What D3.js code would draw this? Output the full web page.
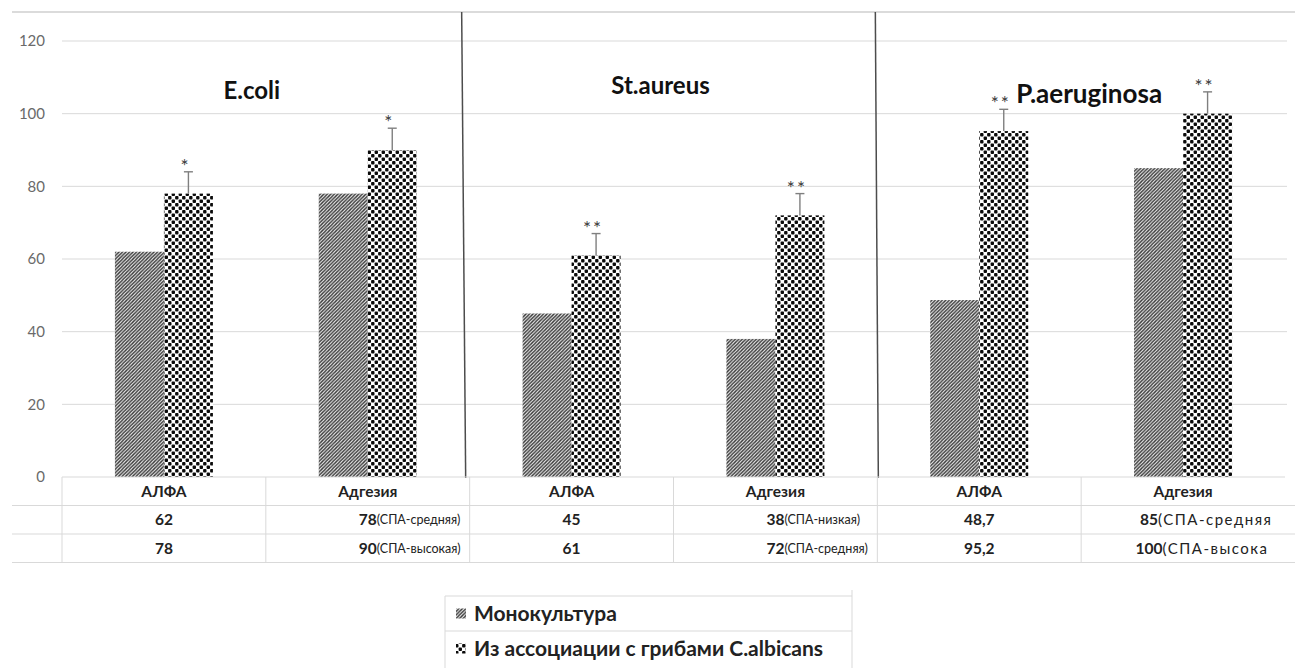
<!DOCTYPE html>
<html><head><meta charset="utf-8">
<script src="https://cdn.jsdelivr.net/npm/d3@7"></script>
<style>body{margin:0;background:#fff}svg{display:block;font-family:Lato,"Open Sans",sans-serif}</style>
</head><body><svg id="c" width="1295" height="668"></svg>
<script>
// ---- data ----
const categories = ["АЛФА","Адгезия","АЛФА","Адгезия","АЛФА","Адгезия"];
const groups = ["E.coli","St.aureus","P.aeruginosa"];
const seriesNames = ["Монокультура","Из ассоциации с грибами C.albicans"];
const mono = [62,78,45,38,48.7,85];
const assoc = [78,90,61,72,95.2,100];
const assocErr = [6,6,6,6,6,6];
const signif = ["*","*","**","**","**","**"];
const monoLabels = ["62","78","45","38","48,7","85"];
const assocLabels = ["78","90","61","72","95,2","100"];
const monoNotes = ["","(СПА-средняя)","","(СПА-низкая)","","(СПА-средняя"];
const assocNotes = ["","(СПА-высокая)","","(СПА-средняя)","","(СПА-высока"];
const yTicks = [0,20,40,60,80,100,120];

(function(){
// ---- layout ----
const svg = d3.select("#c");
const W = 1295, H = 668;
const pL = 62, pR = 1285, pT = 41, pB = 477;
const x = d3.scaleBand().domain(d3.range(categories.length)).range([pL, pR]);
const xs = d3.scaleBand().domain([0,1]).range([0, x.bandwidth()]).paddingOuter(1.08);
const y = d3.scaleLinear().domain([0,120]).range([pB, pT]);
const grid = "#d9d9d9";

// patterns
const defs = svg.append("defs");
const ph = defs.append("pattern").attr("id","hatch").attr("patternUnits","userSpaceOnUse")
  .attr("width",3.5).attr("height",3.5);
ph.append("rect").attr("width",3.5).attr("height",3.5).attr("fill","#fff");
ph.append("path").attr("d","M-1,1 l2,-2 M0,3.5 l3.5,-3.5 M2.5,4.5 l2,-2").attr("stroke","#383838").attr("stroke-width",1.4);
const pc = defs.append("pattern").attr("id","checker").attr("patternUnits","userSpaceOnUse")
  .attr("width",7).attr("height",7);
pc.append("rect").attr("width",7).attr("height",7).attr("fill","#fff");
pc.append("rect").attr("x",0.1).attr("y",0.1).attr("width",3.4).attr("height",3.4).attr("rx",0.9).attr("fill","#0a0a0a");
pc.append("rect").attr("x",3.6).attr("y",3.6).attr("width",3.4).attr("height",3.4).attr("rx",0.9).attr("fill","#0a0a0a");
const fills = ["url(#hatch)","url(#checker)"];

// top border line
svg.append("line").attr("x1",12).attr("x2",W).attr("y1",12).attr("y2",12).attr("stroke","#cfcfcf").attr("stroke-width",1.5);

// gridlines & y ticks
svg.append("g").selectAll("line").data(yTicks.filter(d=>d>0)).join("line")
  .attr("x1",pL).attr("x2",pR+2).attr("y1",d=>y(d)).attr("y2",d=>y(d))
  .attr("stroke",grid).attr("stroke-width",1);
svg.append("g").selectAll("text").data(yTicks).join("text")
  .attr("x",45).attr("y",d=>y(d)).attr("dy","0.35em").attr("text-anchor","end")
  .attr("font-size",15).attr("fill","#6a6a6a").text(d=>d);

// bars
const gBars = svg.append("g");
const seriesVals = [mono, assoc];
seriesVals.forEach((vals, s) => {
  gBars.selectAll(null).data(vals).join("rect")
    .attr("x",(d,i)=>x(i)+xs(s)).attr("width",xs.bandwidth())
    .attr("y",d=>y(d)).attr("height",d=>y(0)-y(d))
    .attr("fill",fills[s]);
});

// error bars (association)
const ex = i => x(i)+xs(1)+xs.bandwidth()/2;
const gErr = svg.append("g").attr("stroke","#7f7f7f").attr("stroke-width",1.4);
assoc.forEach((v,i)=>{
  gErr.append("line").attr("x1",ex(i)).attr("x2",ex(i)).attr("y1",y(v)).attr("y2",y(v+assocErr[i]));
  gErr.append("line").attr("x1",ex(i)-4.5).attr("x2",ex(i)+4.5).attr("y1",y(v+assocErr[i])).attr("y2",y(v+assocErr[i]));
});
svg.append("g").selectAll("text").data(signif).join("text")
  .attr("x",(d,i)=>ex(i)-3).attr("y",(d,i)=>y(assoc[i]+assocErr[i])+1)
  .attr("text-anchor","middle").attr("font-size",19).attr("fill","#3a3a3a")
  .attr("letter-spacing",2).text(d=>d);

// group separators
[2,4].forEach((ci,k)=>{
  const bx = x(ci);
  const off = k===0 ? [-8,-4] : [-2,1];
  svg.append("line").attr("x1",bx+off[0]).attr("x2",bx+off[1]).attr("y1",12).attr("y2",pB+1)
    .attr("stroke","#4d4d4d").attr("stroke-width",1.5);
});

// group titles
const titleOff = [-14,-13,8];
const titleBase = [99,94,103];
const titleSize = [24,24,26];
groups.forEach((g,k)=>{
  const cx = x(2*k)+x.bandwidth() + titleOff[k];
  svg.append("text").attr("x",cx).attr("y",titleBase[k]).attr("text-anchor","middle")
    .attr("font-size",titleSize[k]).attr("font-weight","bold").attr("fill","#111").text(g);
});

// data table
const rowH = 28.5;
const rowY = [pB, pB+rowH, pB+2*rowH, pB+3*rowH];
const gT = svg.append("g");
gT.append("line").attr("x1",pL).attr("x2",pR).attr("y1",rowY[0]).attr("y2",rowY[0]).attr("stroke",grid);
[1,2,3].forEach(r=>gT.append("line").attr("x1",12).attr("x2",W).attr("y1",rowY[r]).attr("y2",rowY[r]).attr("stroke",grid));
d3.range(categories.length).forEach(i=>{
  gT.append("line").attr("x1",x(i)).attr("x2",x(i)).attr("y1",rowY[0]).attr("y2",rowY[3]).attr("stroke",grid);
});
const cxs = i => x(i)+x.bandwidth()/2;
gT.selectAll(null).data(categories).join("text")
  .attr("x",(d,i)=>cxs(i)).attr("y",(rowY[0]+rowY[1])/2).attr("dy","0.35em")
  .attr("text-anchor","middle").attr("font-size",15.5).attr("font-weight","bold").attr("fill","#222").text(d=>d);

function valueRow(labels, notes, r){
  const yy = (rowY[r]+rowY[r+1])/2;
  labels.forEach((lab,i)=>{
    const shift = (i===5) ? -34 : 0;
    const t = gT.append("text").attr("x",cxs(i)+shift).attr("y",yy).attr("dy","0.35em")
      .attr("text-anchor","middle").attr("font-size",15.5).attr("font-weight","bold").attr("fill","#222").text(lab);
    if (notes[i]) {
      const w = t.node().getComputedTextLength();
      const big = i===5;
      gT.append("text").attr("x",cxs(i)+shift+w/2).attr("y",yy).attr("dy","0.35em")
        .attr("font-size",big?15:12.5).attr("letter-spacing",big?1.5:0)
        .attr("fill","#222").text(notes[i]);
    }
  });
}
valueRow(monoLabels, monoNotes, 1);
valueRow(assocLabels, assocNotes, 2);

// legend
const lg = svg.append("g");
const lx0 = 445, lx1 = 852, ly0 = 596, lrow = 35;
lg.append("line").attr("x1",lx0).attr("x2",lx1).attr("y1",ly0).attr("y2",ly0).attr("stroke",grid);
lg.append("line").attr("x1",lx0).attr("x2",lx1).attr("y1",ly0+lrow).attr("y2",ly0+lrow).attr("stroke",grid);
lg.append("line").attr("x1",lx0).attr("x2",lx0).attr("y1",ly0).attr("y2",H).attr("stroke",grid);
lg.append("line").attr("x1",lx1).attr("x2",lx1).attr("y1",ly0-6).attr("y2",H).attr("stroke",grid);
seriesNames.forEach((n,s)=>{
  const cy = ly0 + lrow*s + lrow/2;
  lg.append("rect").attr("x",456).attr("y",cy-5).attr("width",10).attr("height",10).attr("fill",fills[s]);
  lg.append("text").attr("x",474).attr("y",cy).attr("dy","0.35em").attr("font-size",21)
    .attr("font-weight","bold").attr("fill","#222").text(n);
});
})();
</script></body></html>
